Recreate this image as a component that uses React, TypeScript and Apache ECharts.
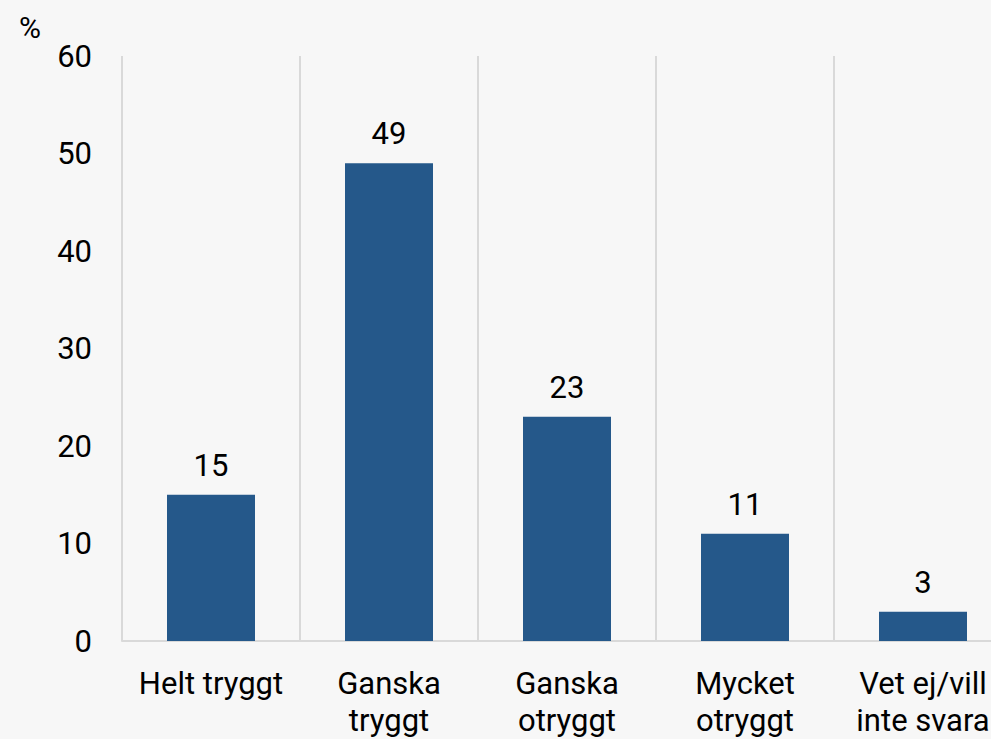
import React, { useEffect, useRef } from "react";
import * as echarts from "echarts";

const categories = ["Helt tryggt", "Ganska\ntryggt", "Ganska\notryggt", "Mycket\notryggt", "Vet ej/vill\ninte svara"];
const values = [15, 49, 23, 11, 3];
const yTicks = { min: 0, max: 60, interval: 10 };

export default function App() {
  const ref = useRef<HTMLDivElement>(null);
  useEffect(() => {
    document.body.style.margin = "0";
    const chart = echarts.init(ref.current!, null, { renderer: "svg" });
    chart.setOption({
      animation: false,
      backgroundColor: "#f7f7f7",
      textStyle: { fontFamily: "Roboto" },
      grid: { left: 122, right: 1, top: 56, bottom: 97, containLabel: false },
      graphic: [
        { type: "text", left: 19, top: 12, style: { text: "%", fontSize: 30, fill: "#000", fontFamily: "Roboto" } },
      ],
      xAxis: {
        type: "category",
        data: categories,
        axisLine: { show: true, lineStyle: { color: "#d9d9d9", width: 2 } },
        axisTick: { show: false },
        splitLine: { show: true, lineStyle: { color: "#d9d9d9", width: 2 } },
        axisLabel: { color: "#000", fontSize: 31, margin: 24, lineHeight: 37, interval: 0, fontFamily: "Roboto" },
      },
      yAxis: {
        type: "value",
        min: yTicks.min,
        max: yTicks.max,
        interval: yTicks.interval,
        axisLine: { show: false },
        axisTick: { show: false },
        splitLine: { show: false },
        axisLabel: { color: "#000", fontSize: 31, margin: 30, fontFamily: "Roboto" },
      },
      series: [
        {
          type: "bar",
          data: values,
          barWidth: 88,
          itemStyle: { color: "#25588a" },
          label: { show: true, position: "top", distance: 14, color: "#000", fontSize: 31, fontFamily: "Roboto" },
        },
      ],
    });
    return () => chart.dispose();
  }, []);
  return (
    <div style={{ width: 991, height: 739, overflow: "hidden", position: "relative" }}>
      <div ref={ref} style={{ width: 1013, height: 739 }} />
    </div>
  );
}
